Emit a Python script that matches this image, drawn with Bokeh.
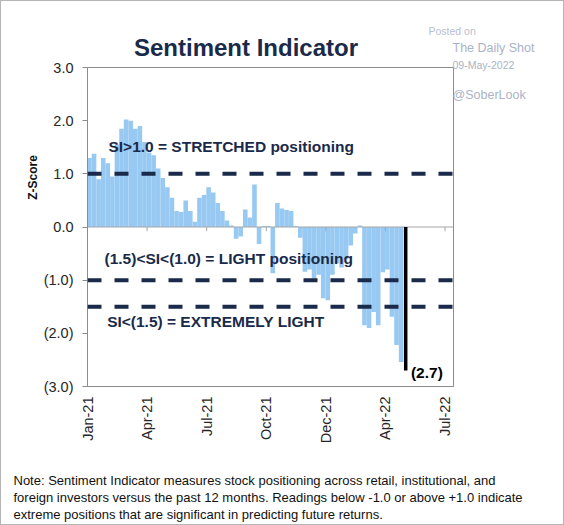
import numpy as np
import pandas as pd
from math import pi
from bokeh.plotting import figure
from bokeh.models import (Range1d, FixedTicker, DatetimeTickFormatter, Span, Label,
                          ColumnDataSource, GridBox)
from bokeh.core.properties import value
from bokeh.embed import file_html
from bokeh.resources import INLINE

# ---------------- data ----------------
week_start = "2021-01-04"
z_score = [1.30, 1.38, 0.90, 1.30, 1.20, 0.95, 1.55, 1.85, 2.02, 2.00,
           1.85, 1.90, 1.60, 1.40, 1.35, 1.10, 0.92, 0.75, 0.55, 0.30,
           0.28, 0.50, 0.30, 0.10, 0.55, 0.60, 0.75, 0.65, 0.45, 0.30,
           0.12, 0.03, -0.22, -0.18, 0.33, 0.18, 0.80, -0.32, 0.02, 0.02,
           -0.87, 0.45, 0.35, 0.32, 0.30, 0.02, -0.20, -0.84, -0.80, -0.97,
           -0.90, -1.34, -1.38, -0.90, -0.68, -0.76, -0.60, -0.35, -0.12, 0.03,
           -1.85, -1.90, -1.60, -1.85, -0.85, -0.80, -1.69, -2.22, -2.54, -2.70]
dates = pd.date_range(week_start, periods=len(z_score), freq="7D")

x_tick_dates = ["2021-01-01", "2021-04-02", "2021-07-02", "2021-10-01",
                "2021-12-31", "2022-04-01", "2022-07-01"]
y_ticks = [3, 2, 1, 0, -1, -2, -3]
y_tick_labels = ["3.0", "2.0", "1.0", "0.0", "(1.0)", "(2.0)", "(3.0)"]
thresholds = [1.0, -1.0, -1.5]
x_start, x_end = "2021-01-01", "2022-07-14"

title = "Sentiment Indicator"
y_title = "Z-Score"
note_lines = [
    "Note: Sentiment Indicator measures stock positioning across retail, institutional, and",
    "foreign investors versus the past 12 months. Readings below -1.0 or above +1.0 indicate",
    "extreme positions that are significant in predicting future returns.",
]
watermark = ["Posted on", "The Daily Shot", "09-May-2022", "@SoberLook"]

# ---------------- helpers ----------------
def ms(d):
    return pd.Timestamp(d).value / 1e6

DAY = 86400000.0
NAVY = "#1a2a4a"
BLUE = "#97c9f2"
GRAY = "#8c8c8c"
WM = "#aab3c6"
FONT = "Liberation Sans"
W, H = 564, 525

p = figure(width=W, height=H, x_axis_type="datetime",
           output_backend="svg", toolbar_location=None,
           x_range=Range1d(ms(x_start), ms(x_end)), y_range=Range1d(-3, 3),
           min_border_left=86, min_border_right=112, min_border_top=66,
           min_border_bottom=140)
p.frame_align = False
p.styles = {"border": "1px solid #b5b5b5", "box-sizing": "border-box"}
p.xgrid.visible = False
p.ygrid.visible = False
p.background_fill_color = "white"
p.border_fill_color = "white"
p.outline_line_color = GRAY
p.outline_line_width = 1

src = ColumnDataSource(dict(x=dates[:-1], top=z_score[:-1]))
p.vbar(x="x", top="top", bottom=0, width=7 * DAY, source=src,
       fill_color=BLUE, line_color=None)

# zero line with ticks
p.add_layout(Span(location=0, dimension="width", line_color="#a6a6a6", line_width=1))
zt = [ms(d) for d in x_tick_dates]
p.segment(x0=zt, y0=[0] * len(zt), x1=zt, y1=[-0.08] * len(zt),
          line_color="#a6a6a6", line_width=1)

for t in thresholds:
    p.add_layout(Span(location=t, dimension="width", line_color=NAVY,
                      line_width=4, line_dash="14 13"))

last = p.segment(x0=[dates[-1]], y0=[0], x1=[dates[-1]], y1=[z_score[-1]],
                 line_color="black", line_width=3.5)
last.level = "overlay"

# axes
p.xaxis.ticker = FixedTicker(ticks=zt)
fmt = "%b-%y"
p.xaxis.formatter = DatetimeTickFormatter(microseconds=fmt, milliseconds=fmt, seconds=fmt,
                                          minsec=fmt, minutes=fmt, hourmin=fmt, hours=fmt,
                                          days=fmt, months=fmt, years=fmt)
p.xaxis.major_label_orientation = pi / 2
p.xaxis.major_tick_out = 0
p.xaxis.major_tick_in = 0
p.xaxis.minor_tick_out = 0
p.xaxis.minor_tick_in = 0
p.xaxis.major_label_standoff = 10
p.xaxis.axis_line_color = GRAY

p.yaxis.ticker = FixedTicker(ticks=y_ticks)
p.yaxis.major_label_overrides = {t: l for t, l in zip(y_ticks, y_tick_labels)}
p.yaxis.major_tick_out = 5
p.yaxis.major_tick_in = 0
p.yaxis.minor_tick_out = 0
p.yaxis.minor_tick_in = 0
p.yaxis.major_label_standoff = 9
p.yaxis.axis_line_color = GRAY
p.yaxis.major_tick_line_color = GRAY

for ax in (p.xaxis, p.yaxis):
    ax.major_label_text_font = FONT
    ax.major_label_text_font_size = "14.5px"
    ax.major_label_text_color = "#262626"

# in-plot annotations (data units)
def dlabel(txt, d, y, color=NAVY):
    p.add_layout(Label(x=ms(d), y=y, text=txt, text_font=FONT, text_font_size="15.5px",
                       text_font_style="bold", text_color=color,
                       text_align="left", text_baseline="middle"))

dlabel("SI>1.0 = STRETCHED positioning", "2021-02-02", 1.51)
dlabel("(1.5)<SI<(1.0) = LIGHT positioning", "2021-01-27", -0.59)
dlabel("SI<(1.5) = EXTREMELY LIGHT", "2021-01-31", -1.78)
dlabel("(2.7)", "2022-05-10", -2.73, color="black")

# ---------------- transparent overlay for the texts around the plot ----------------
o = figure(width=W, height=H, output_backend="svg", toolbar_location=None,
           x_range=Range1d(0, W), y_range=Range1d(H, 0),
           x_axis_location=None, y_axis_location=None,
           min_border=0, min_border_left=0, min_border_right=0,
           min_border_top=0, min_border_bottom=0)
o.frame_align = False
o.xgrid.visible = False
o.ygrid.visible = False
o.background_fill_color = None
o.border_fill_color = None
o.outline_line_color = None

def otext(txt, x, y, size, color, style="normal", align="left",
          baseline="alphabetic", angle=0.0):
    o.text(x=[x], y=[y], text=[txt], text_font=value(FONT), text_font_size=value(size),
           text_font_style=style, text_color=color, text_align=align,
           text_baseline=baseline, angle=angle)

otext(title, 245.5, 47, "24px", NAVY, style="bold", align="center")
otext(watermark[0], 428, 30, "10.5px", "#b9c0cf")
otext(watermark[1], 452, 47, "12.5px", WM)
otext(watermark[2], 452, 64, "10.5px", WM)
otext(watermark[3], 452, 94, "12.5px", WM)
otext(y_title, 32, 177, "12px", "#111111", style="bold", align="center",
      baseline="middle", angle=pi / 2)
for i, line in enumerate(note_lines):
    otext(line, 13, 480 + 17 * i, "13px", "#111111")

layout = GridBox(children=[(p, 0, 0), (o, 0, 0)])
open("out.html", "w").write(file_html(layout, INLINE))
